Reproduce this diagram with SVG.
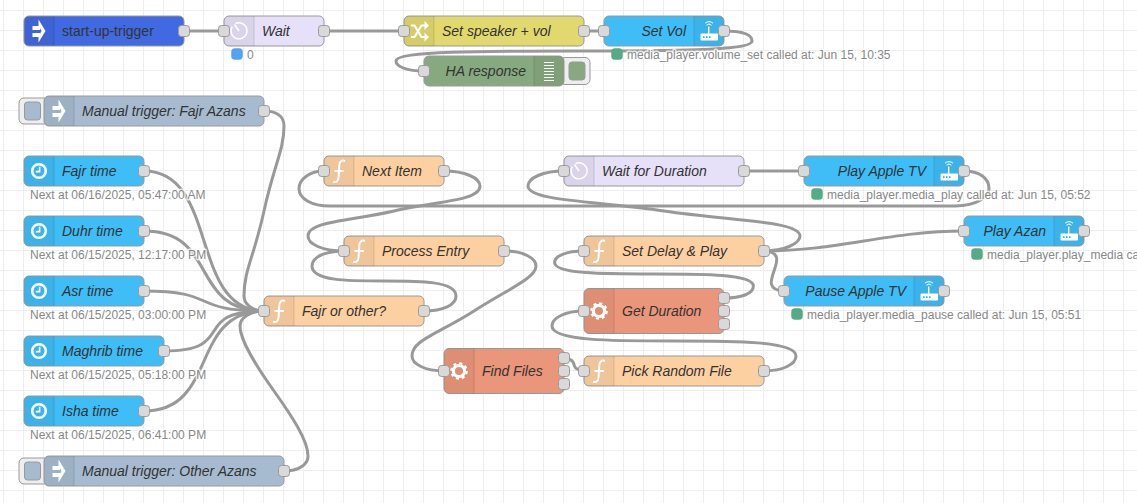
<svg xmlns="http://www.w3.org/2000/svg" xmlns:xlink="http://www.w3.org/1999/xlink" width="1137" height="503" viewBox="0 0 1137 503">
<style>
text{font-family:"Liberation Sans",Arial,sans-serif}
.n{stroke:#999;stroke-width:1}
.blue{fill:#3fbdf6}.royal{fill:#4169e1}.lav{fill:#e6e0f8}.yel{fill:#e2d96e}.fn{fill:#fdd0a2}.ex{fill:#e9967a}.dbg{fill:#87a980}.inj{fill:#a6bbcf}
.shade{fill:#000;fill-opacity:.05}
.sep{stroke:#000;stroke-opacity:.12;stroke-width:1;fill:none}
.port{fill:#d9d9d9;stroke:#999;stroke-width:1;width:11px;height:11px;transform:translate(-.5px,-.5px)}
.l{font-size:14px;fill:#333;font-style:italic}
.up{font-style:normal}
.e{text-anchor:end}
.s{font-size:12px;fill:#888;stroke:#fff;stroke-width:3px;stroke-opacity:.75;paint-order:stroke;stroke-linejoin:round}
.dg{fill:#55aa88;stroke:#55aa88;stroke-width:1.5}
.db{fill:#53a3f3;stroke:#53a3f3;stroke-width:1.5}
.btn{fill:#eee;stroke:#999}
.w{fill:none;stroke:#999;stroke-width:3}
.iw{fill:#fff;stroke:none}
.il{fill:none;stroke:#fff}
</style>
<defs>
<pattern id="grid" width="20" height="20" patternUnits="userSpaceOnUse" x="3" y="10">
<path d="M0 .5H20M.5 0V20" fill="none" stroke="#eee" stroke-width="1"/>
</pattern>
<g id="i-inject"><path class="iw" d="M14.500 3.500 21.500 15 14.500 26.500V20.500L17.500 15 14.500 9.500zM8.500 10h7.500v4H8.500zM8.500 17h7.500v4H8.500z"/></g>
<g id="i-clock"><circle class="il" cx="15" cy="15" r="6.800" stroke-width="2.600"/><path class="il" d="M15.600 10.800V15.600H11.800" stroke-width="1.600"/></g>
<g id="i-timer"><path class="il" d="M11.500 7.700A8 8 0 1 1 8.200 10.700" stroke-width="1.400"/><path class="il" d="M15 15 10.500 8.500" stroke-width="1.400"/></g>
<g id="i-fn"><path class="il" d="M21 5C17.500 3.800 15.600 5.500 15.300 9L14.600 21C14.300 25 12.500 26.700 9 25.700M10.500 15H20" stroke-width="2"/></g>
<g id="i-gear"><circle class="il" cx="15" cy="15" r="5.600" stroke-width="3.200"/><circle class="il" cx="15" cy="15" r="7.600" stroke-width="2.400" stroke-dasharray="3 2.970"/></g>
<g id="i-shuffle"><path class="il" d="M7 9.500h3.500L17.500 21H21M7 21h3.500L17.500 9.500H21" stroke-width="2.200"/><path class="iw" d="M20.500 5 25 9.500 20.500 14zM20.500 16.500 25 21 20.500 25.500z"/></g>
<g id="i-router"><path class="iw" fill-rule="evenodd" d="M7.500 17.500H14V10.500H15.400V17.500H23A1 1 0 0 1 24 18.500V23.500A1 1 0 0 1 23 24.500H7.500A1 1 0 0 1 6.500 23.500V18.500A1 1 0 0 1 7.500 17.500ZM9 20.300V21.900H10.600V20.300ZM12 20.300V21.900H13.600V20.300ZM15 20.300V21.900H16.600V20.300Z"/><path class="il" d="M12.500 9.200A3.500 3.500 0 0 1 17.500 9.200M11 7.200A6 6 0 0 1 19 7.200" stroke-width="1"/></g>
<g id="i-list"><path class="il" d="M10 6.500H20M10 9.500H20M10 12.500H20M10 15.500H20M10 18.500H20M10 21.500H20M10 24.500H20" stroke-width="1.100"/></g>
</defs>
<rect width="1137" height="503" fill="#fff"/>
<rect width="1137" height="503" fill="url(#grid)"/>

<g id="connectors">
<path class="w" d="M184 31H224"/>
<path class="w" d="M324 31H404"/>
<path class="w" d="M584 31H604"/>
<path class="w" d="M724 31C741 31 752 34 752 41C752 51 663 51 574 51C485 51 396 51 396 61C396 66.500 407 71 424 71"/>
<path class="w" d="M264 111C276 111 284 116 284 126C284 150 274 165 264 211C254 257 244 270 244 296C244 304 252 311 264 311"/>
<path class="w" d="M144 171C219 171 189 311 264 311"/>
<path class="w" d="M144 231C219 231 189 311 264 311"/>
<path class="w" d="M144 291C219 291 189 311 264 311"/>
<path class="w" d="M164 351C239 351 189 311 264 311"/>
<path class="w" d="M144 411C219 411 189 311 264 311"/>
<path class="w" d="M284 471C298 471 308 465 308 456C308 440 291 415 274 391C257 367 240 341 240 326C240 318 250 311 264 311"/>
<path class="w" d="M424 311C443 311 456 305 456 296C456 281 420 281 384 281C348 281 312 281 312 266C312 257 325 251 344 251"/>
<path class="w" d="M504 251C523 251 536 258 536 266C536 278 510 288 474 311C438 334 412 340 412 356C412 364 425 371 444 371"/>
<path class="w" d="M564 358C581.900 360.600 566.100 368.400 584 371"/>
<path class="w" d="M764 371C783 371 796 364 796 356C796 341 735 341 674 341C613 341 552 341 552 326C552 318 565 311 584 311"/>
<path class="w" d="M724 298C741 298 753.400 294 753.400 286C753.400 274 703.700 274 654 274C604 274 554.600 274 554.600 262.500C554.600 256 566 251 584 251"/>
<path class="w" d="M444 171C465 171 480 178 480 186C480 201 437 201 394 211C351 221 308 221 308 236C308 244 322 251 344 251"/>
<path class="w" d="M964 171C979 171 989 178 989 188.500C989 196 978 206 955 206H330C312 206 299 199 299 188.500C299 179 310 171 324 171"/>
<path class="w" d="M764 251C783 251 800 244 800 236C800 221 732 221 664 211C596 201 528 201 528 186C528 178 543 171 564 171"/>
<path class="w" d="M764 251C839 251 889 231 964 231"/>
<path class="w" d="M764 251C797.500 252.700 750.500 289.300 784 291"/>
<path class="w" d="M744 171H804"/>
</g>

<g id="n-startup"><rect class="n royal" x="24" y="16" width="160" height="30" rx="5"/><path class="shade" d="M29 16H54V46H29A5 5 0 0 1 24 41V21A5 5 0 0 1 29 16Z"/><path class="sep" d="M54 16V46"/><use href="#i-inject" x="24" y="16"/><text class="l up" x="62" y="36">start-up-trigger</text><rect class="port" x="179" y="26" width="10" height="10" rx="3"/></g>

<g id="n-wait"><rect class="n lav" x="224" y="16" width="100" height="30" rx="5"/><path class="shade" d="M229 16H254V46H229A5 5 0 0 1 224 41V21A5 5 0 0 1 229 16Z"/><path class="sep" d="M254 16V46"/><use href="#i-timer" x="224" y="16"/><text class="l" x="262" y="36">Wait</text><rect class="port" x="219" y="26" width="10" height="10" rx="3"/><rect class="port" x="319" y="26" width="10" height="10" rx="3"/><rect class="db" x="232" y="49" width="10" height="10" rx="3"/><text class="s" x="247" y="59">0</text></g>

<g id="n-speaker"><rect class="n yel" x="404" y="16" width="180" height="30" rx="5"/><path class="shade" d="M409 16H434V46H409A5 5 0 0 1 404 41V21A5 5 0 0 1 409 16Z"/><path class="sep" d="M434 16V46"/><use href="#i-shuffle" x="404" y="16"/><text class="l" x="442" y="36">Set speaker + vol</text><rect class="port" x="399" y="26" width="10" height="10" rx="3"/><rect class="port" x="579" y="26" width="10" height="10" rx="3"/></g>

<g id="n-setvol"><rect class="n blue" x="604" y="16" width="120" height="30" rx="5"/><path class="shade" d="M694 16H719A5 5 0 0 1 724 21V41A5 5 0 0 1 719 46H694Z"/><path class="sep" d="M694 16V46"/><use href="#i-router" x="694" y="16"/><text class="l e" x="686" y="36">Set Vol</text><rect class="port" x="599" y="26" width="10" height="10" rx="3"/><rect class="port" x="719" y="26" width="10" height="10" rx="3"/><rect class="dg" x="612" y="49" width="10" height="10" rx="3"/><text class="s" x="627" y="59">media_player.volume_set called at: Jun 15, 10:35</text></g>

<g id="n-ha"><rect class="btn" x="560" y="57.500" width="30" height="27" rx="5"/><rect class="n dbg" x="569" y="62" width="16" height="18" rx="3"/><rect class="n dbg" x="424" y="56" width="140" height="30" rx="5"/><path class="shade" d="M534 56H559A5 5 0 0 1 564 61V81A5 5 0 0 1 559 86H534Z"/><path class="sep" d="M534 56V86"/><use href="#i-list" x="534" y="56"/><text class="l e" x="526" y="76">HA response</text><rect class="port" x="419" y="66" width="10" height="10" rx="3"/></g>

<g id="n-manual-fajr"><rect class="btn" x="19" y="98" width="30" height="26" rx="5"/><rect class="n inj" x="24.500" y="102" width="16" height="18" rx="3"/><rect class="n inj" x="44" y="96" width="220" height="30" rx="5"/><path class="shade" d="M49 96H74V126H49A5 5 0 0 1 44 121V101A5 5 0 0 1 49 96Z"/><path class="sep" d="M74 96V126"/><use href="#i-inject" x="44" y="96"/><text class="l" x="82" y="116">Manual trigger: Fajr Azans</text><rect class="port" x="259" y="106" width="10" height="10" rx="3"/></g>

<g id="n-fajr"><rect class="n blue" x="24" y="156" width="120" height="30" rx="5"/><path class="shade" d="M29 156H54V186H29A5 5 0 0 1 24 181V161A5 5 0 0 1 29 156Z"/><path class="sep" d="M54 156V186"/><use href="#i-clock" x="24" y="156"/><text class="l" x="62" y="176">Fajr time</text><rect class="port" x="139" y="166" width="10" height="10" rx="3"/><text class="s" x="30" y="199">Next at 06/16/2025, 05:47:00 AM</text></g>

<g id="n-duhr"><rect class="n blue" x="24" y="216" width="120" height="30" rx="5"/><path class="shade" d="M29 216H54V246H29A5 5 0 0 1 24 241V221A5 5 0 0 1 29 216Z"/><path class="sep" d="M54 216V246"/><use href="#i-clock" x="24" y="216"/><text class="l" x="62" y="236">Duhr time</text><rect class="port" x="139" y="226" width="10" height="10" rx="3"/><text class="s" x="30" y="259">Next at 06/15/2025, 12:17:00 PM</text></g>

<g id="n-asr"><rect class="n blue" x="24" y="276" width="120" height="30" rx="5"/><path class="shade" d="M29 276H54V306H29A5 5 0 0 1 24 301V281A5 5 0 0 1 29 276Z"/><path class="sep" d="M54 276V306"/><use href="#i-clock" x="24" y="276"/><text class="l" x="62" y="296">Asr time</text><rect class="port" x="139" y="286" width="10" height="10" rx="3"/><text class="s" x="30" y="319">Next at 06/15/2025, 03:00:00 PM</text></g>

<g id="n-maghrib"><rect class="n blue" x="24" y="336" width="140" height="30" rx="5"/><path class="shade" d="M29 336H54V366H29A5 5 0 0 1 24 361V341A5 5 0 0 1 29 336Z"/><path class="sep" d="M54 336V366"/><use href="#i-clock" x="24" y="336"/><text class="l" x="62" y="356">Maghrib time</text><rect class="port" x="159" y="346" width="10" height="10" rx="3"/><text class="s" x="30" y="379">Next at 06/15/2025, 05:18:00 PM</text></g>

<g id="n-isha"><rect class="n blue" x="24" y="396" width="120" height="30" rx="5"/><path class="shade" d="M29 396H54V426H29A5 5 0 0 1 24 421V401A5 5 0 0 1 29 396Z"/><path class="sep" d="M54 396V426"/><use href="#i-clock" x="24" y="396"/><text class="l" x="62" y="416">Isha time</text><rect class="port" x="139" y="406" width="10" height="10" rx="3"/><text class="s" x="30" y="439">Next at 06/15/2025, 06:41:00 PM</text></g>

<g id="n-manual-other"><rect class="btn" x="19" y="458" width="30" height="26" rx="5"/><rect class="n inj" x="24.500" y="462" width="16" height="18" rx="3"/><rect class="n inj" x="44" y="456" width="240" height="30" rx="5"/><path class="shade" d="M49 456H74V486H49A5 5 0 0 1 44 481V461A5 5 0 0 1 49 456Z"/><path class="sep" d="M74 456V486"/><use href="#i-inject" x="44" y="456"/><text class="l" x="82" y="476">Manual trigger: Other Azans</text><rect class="port" x="279" y="466" width="10" height="10" rx="3"/></g>

<g id="n-fajr-or-other"><rect class="n fn" x="264" y="296" width="160" height="30" rx="5"/><path class="shade" d="M269 296H294V326H269A5 5 0 0 1 264 321V301A5 5 0 0 1 269 296Z"/><path class="sep" d="M294 296V326"/><use href="#i-fn" x="264" y="296"/><text class="l" x="302" y="316">Fajr or other?</text><rect class="port" x="259" y="306" width="10" height="10" rx="3"/><rect class="port" x="419" y="306" width="10" height="10" rx="3"/></g>

<g id="n-next"><rect class="n fn" x="324" y="156" width="120" height="30" rx="5"/><path class="shade" d="M329 156H354V186H329A5 5 0 0 1 324 181V161A5 5 0 0 1 329 156Z"/><path class="sep" d="M354 156V186"/><use href="#i-fn" x="324" y="156"/><text class="l" x="362" y="176">Next Item</text><rect class="port" x="319" y="166" width="10" height="10" rx="3"/><rect class="port" x="439" y="166" width="10" height="10" rx="3"/></g>

<g id="n-process"><rect class="n fn" x="344" y="236" width="160" height="30" rx="5"/><path class="shade" d="M349 236H374V266H349A5 5 0 0 1 344 261V241A5 5 0 0 1 349 236Z"/><path class="sep" d="M374 236V266"/><use href="#i-fn" x="344" y="236"/><text class="l" x="382" y="256">Process Entry</text><rect class="port" x="339" y="246" width="10" height="10" rx="3"/><rect class="port" x="499" y="246" width="10" height="10" rx="3"/></g>

<g id="n-find"><rect class="n ex" x="444" y="348.500" width="120" height="45" rx="5"/><path class="shade" d="M449 348.500H474V393.500H449A5 5 0 0 1 444 388.500V353.500A5 5 0 0 1 449 348.500Z"/><path class="sep" d="M474 348.500V393.500"/><use href="#i-gear" x="444" y="356"/><text class="l" x="482" y="376">Find Files</text><rect class="port" x="439" y="366" width="10" height="10" rx="3"/><rect class="port" x="559" y="353" width="10" height="10" rx="3"/><rect class="port" x="559" y="366" width="10" height="10" rx="3"/><rect class="port" x="559" y="379" width="10" height="10" rx="3"/></g>

<g id="n-pick"><rect class="n fn" x="584" y="356" width="180" height="30" rx="5"/><path class="shade" d="M589 356H614V386H589A5 5 0 0 1 584 381V361A5 5 0 0 1 589 356Z"/><path class="sep" d="M614 356V386"/><use href="#i-fn" x="584" y="356"/><text class="l" x="622" y="376">Pick Random File</text><rect class="port" x="579" y="366" width="10" height="10" rx="3"/><rect class="port" x="759" y="366" width="10" height="10" rx="3"/></g>

<g id="n-duration"><rect class="n ex" x="584" y="288.500" width="140" height="45" rx="5"/><path class="shade" d="M589 288.500H614V333.500H589A5 5 0 0 1 584 328.500V293.500A5 5 0 0 1 589 288.500Z"/><path class="sep" d="M614 288.500V333.500"/><use href="#i-gear" x="584" y="296"/><text class="l" x="622" y="316">Get Duration</text><rect class="port" x="579" y="306" width="10" height="10" rx="3"/><rect class="port" x="719" y="293" width="10" height="10" rx="3"/><rect class="port" x="719" y="306" width="10" height="10" rx="3"/><rect class="port" x="719" y="319" width="10" height="10" rx="3"/></g>

<g id="n-delay"><rect class="n fn" x="584" y="236" width="180" height="30" rx="5"/><path class="shade" d="M589 236H614V266H589A5 5 0 0 1 584 261V241A5 5 0 0 1 589 236Z"/><path class="sep" d="M614 236V266"/><use href="#i-fn" x="584" y="236"/><text class="l" x="622" y="256">Set Delay &amp; Play</text><rect class="port" x="579" y="246" width="10" height="10" rx="3"/><rect class="port" x="759" y="246" width="10" height="10" rx="3"/></g>

<g id="n-waitdur"><rect class="n lav" x="564" y="156" width="180" height="30" rx="5"/><path class="shade" d="M569 156H594V186H569A5 5 0 0 1 564 181V161A5 5 0 0 1 569 156Z"/><path class="sep" d="M594 156V186"/><use href="#i-timer" x="564" y="156"/><text class="l" x="602" y="176">Wait for Duration</text><rect class="port" x="559" y="166" width="10" height="10" rx="3"/><rect class="port" x="739" y="166" width="10" height="10" rx="3"/></g>

<g id="n-playtv"><rect class="n blue" x="804" y="156" width="160" height="30" rx="5"/><path class="shade" d="M934 156H959A5 5 0 0 1 964 161V181A5 5 0 0 1 959 186H934Z"/><path class="sep" d="M934 156V186"/><use href="#i-router" x="934" y="156"/><text class="l e" x="926" y="176">Play Apple TV</text><rect class="port" x="799" y="166" width="10" height="10" rx="3"/><rect class="port" x="959" y="166" width="10" height="10" rx="3"/><rect class="dg" x="812" y="189" width="10" height="10" rx="3"/><text class="s" x="827" y="199">media_player.media_play called at: Jun 15, 05:52</text></g>

<g id="n-azan"><rect class="n blue" x="964" y="216" width="120" height="30" rx="5"/><path class="shade" d="M1054 216H1079A5 5 0 0 1 1084 221V241A5 5 0 0 1 1079 246H1054Z"/><path class="sep" d="M1054 216V246"/><use href="#i-router" x="1054" y="216"/><text class="l e" x="1046" y="236">Play Azan</text><rect class="port" x="959" y="226" width="10" height="10" rx="3"/><rect class="port" x="1079" y="226" width="10" height="10" rx="3"/><rect class="dg" x="972" y="249" width="10" height="10" rx="3"/><text class="s" x="987" y="259">media_player.play_media ca</text></g>

<g id="n-pausetv"><rect class="n blue" x="784" y="276" width="160" height="30" rx="5"/><path class="shade" d="M914 276H939A5 5 0 0 1 944 281V301A5 5 0 0 1 939 306H914Z"/><path class="sep" d="M914 276V306"/><use href="#i-router" x="914" y="276"/><text class="l e" x="906" y="296">Pause Apple TV</text><rect class="port" x="779" y="286" width="10" height="10" rx="3"/><rect class="port" x="939" y="286" width="10" height="10" rx="3"/><rect class="dg" x="792" y="309" width="10" height="10" rx="3"/><text class="s" x="807" y="319">media_player.media_pause called at: Jun 15, 05:51</text></g>
</svg>
